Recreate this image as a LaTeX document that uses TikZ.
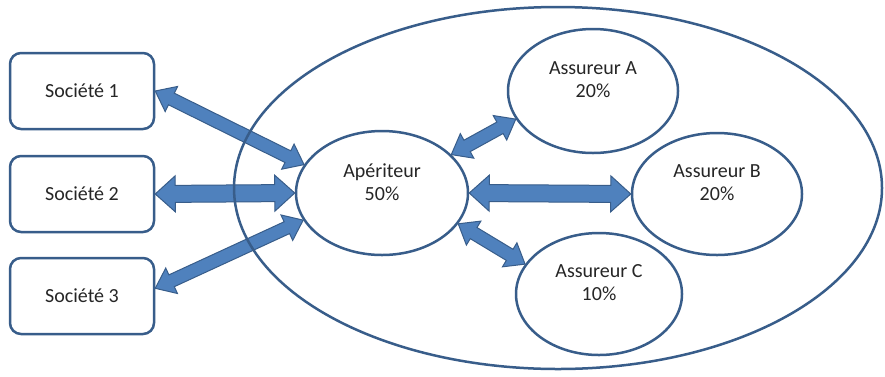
\documentclass[tikz,border=0pt]{standalone}
\usepackage{fontspec}
\setmainfont{Carlito}
\usetikzlibrary{calc,shapes.geometric}
\definecolor{edgeblue}{RGB}{56,93,138}
\definecolor{fillblue}{RGB}{79,129,189}
\definecolor{txt}{RGB}{38,38,38}
\tikzset{
  box/.style={draw=edgeblue, line width=2.5pt, rounded corners=11pt, fill=white,
    minimum width=144pt, minimum height=76pt, text=txt, font=\fontsize{20}{23}\selectfont},
  oval/.style={ellipse, draw=edgeblue, line width=2.5pt, fill=white, inner sep=0pt},
  lbl/.style={align=center, text=txt, font=\fontsize{20}{23}\selectfont},
  barrow/.style={fill=fillblue, draw=edgeblue, line width=1pt, line join=miter}
}
% #1 start, #2 end, #3 shaft half width, #4 head half width, #5 head length
\newcommand\blockarrow[5]{%
  \draw[barrow] (#1)
    -- ($(#1)!#5!(#2)!#4!90:(#2)$)
    -- ($(#1)!#5!(#2)!#3!90:(#2)$)
    -- ($(#2)!#5!(#1)!#3!-90:(#1)$)
    -- ($(#2)!#5!(#1)!#4!-90:(#1)$)
    -- (#2)
    -- ($(#2)!#5!(#1)!#4!90:(#1)$)
    -- ($(#2)!#5!(#1)!#3!90:(#1)$)
    -- ($(#1)!#5!(#2)!#3!-90:(#2)$)
    -- ($(#1)!#5!(#2)!#4!-90:(#2)$)
    -- cycle;}
\begin{document}
\begin{tikzpicture}[x=1pt,y=1pt]
\useasboundingbox[fill=white] (0,0) rectangle (885,-376);
% companies
\node[box] (s1) at (82,-91) {Société 1};
\node[box] (s2) at (82,-194) {Société 2};
\node[box] (s3) at (82,-296) {Société 3};
% insurers
\node[oval, minimum width=172pt, minimum height=124pt] (ap) at (382,-193) {};
\node[oval, minimum width=170pt, minimum height=124pt] (A) at (593,-91) {};
\node[oval, minimum width=170pt, minimum height=122pt] (B) at (717,-194) {};
\node[oval, minimum width=166pt, minimum height=122pt] (C) at (599,-294) {};
\node[lbl] (apt) at ($(ap)+(0,11)$) {Apériteur\\50\%};
\node[lbl] (At) at ($(A)+(0,11)$) {Assureur A\\20\%};
\node[lbl] (Bt) at ($(B)+(0,11)$) {Assureur B\\20\%};
\node[lbl] (Ct) at ($(C)+(0,11)$) {Assureur C\\10\%};
% arrows
\blockarrow{s1.east}{ap.160}{6.5pt}{14pt}{18pt}
\blockarrow{s2.east}{ap.west}{8.5pt}{18pt}{20pt}
\blockarrow{s3.6}{ap.199}{6.5pt}{14pt}{18pt}
\blockarrow{ap.29}{A.200}{6.5pt}{14pt}{18pt}
\blockarrow{ap.east}{B.west}{8.5pt}{18pt}{20pt}
\blockarrow{ap.-22}{C.158}{6.5pt}{14pt}{18pt}
% pool
\node[ellipse, draw=edgeblue, line width=2.5pt, minimum width=648pt, minimum height=362pt, inner sep=0pt] (pool) at (558,-188) {};
\end{tikzpicture}
\end{document}
